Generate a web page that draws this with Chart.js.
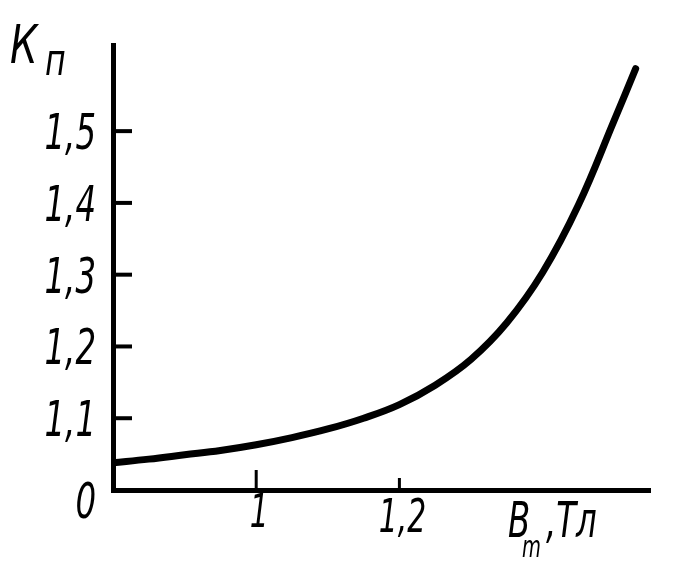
<!DOCTYPE html>
<html>
<head>
<meta charset="utf-8">
<script src="https://cdn.jsdelivr.net/npm/chart.js@4"></script>
<style>
  html, body { margin: 0; padding: 0; background: #fff; }
  #wrap { width: 676px; height: 564px; }
</style>
</head>
<body>
<div id="wrap"><canvas id="canvas_kp"></canvas></div>
<script>
// B_m, Tl  ->  K_p
var b_values = [0.8, 0.85, 0.9, 0.95, 1.0, 1.05, 1.1, 1.15, 1.2, 1.25, 1.3, 1.35, 1.4, 1.45, 1.5, 1.53];
var kp_values = [1.038, 1.043, 1.049, 1.055, 1.063, 1.073, 1.085, 1.1, 1.119, 1.146, 1.182, 1.233, 1.303, 1.397, 1.515, 1.587];
var y_ticks = [1.0, 1.1, 1.2, 1.3, 1.4, 1.5];
var y_labels = ['0', '1,1', '1,2', '1,3', '1,4', '1,5'];
var x_ticks = [1.0, 1.2];
var x_labels = ['1', '1,2'];

var FONT = "'DejaVu Sans Condensed', 'DejaVu Sans', sans-serif";

var points = b_values.map(function (b, i) { return { x: b, y: kp_values[i] }; });

// narrow, tall italic lettering like the book's
function drawNarrow(ctx, text, x, y, size, align, squeeze) {
  ctx.save();
  ctx.translate(x, y);
  ctx.scale(squeeze || 0.72, 1);
  ctx.font = 'italic ' + size + 'px ' + FONT;
  ctx.textAlign = align;
  ctx.fillText(text, 0, 0);
  ctx.restore();
}

// inward ticks, tick labels and axis names, placed with the chart's own scales
var inkPlugin = {
  id: 'ink',
  afterDraw: function (chart) {
    var ctx = chart.ctx;
    var xs = chart.scales.x, ys = chart.scales.y;
    var left = chart.chartArea.left, bottom = chart.chartArea.bottom;
    ctx.save();
    ctx.strokeStyle = '#000';
    ctx.fillStyle = '#000';
    ctx.lineWidth = 4;
    y_ticks.forEach(function (v) {
      if (v === 1.0) return;
      var py = ys.getPixelForValue(v);
      ctx.beginPath();
      ctx.moveTo(left, py);
      ctx.lineTo(left + 19, py);
      ctx.stroke();
    });
    ctx.lineWidth = 3;
    x_ticks.forEach(function (v, i) {
      var px = xs.getPixelForValue(v);
      ctx.beginPath();
      ctx.moveTo(px, bottom);
      ctx.lineTo(px, bottom - (i === 0 ? 20 : 12));
      ctx.stroke();
    });

    ctx.textBaseline = 'alphabetic';
    y_ticks.forEach(function (v, i) {
      var py = ys.getPixelForValue(v);
      if (v === 1.0) py += 10;
      drawNarrow(ctx, y_labels[i], left - 17, py + 18, 50, 'right');
    });
    x_ticks.forEach(function (v, i) {
      var px = xs.getPixelForValue(v);
      drawNarrow(ctx, x_labels[i], px + 3, bottom + (i === 0 ? 37 : 42), 46, 'center');
    });

    // K_n
    drawNarrow(ctx, 'К', 10, 63, 54, 'left', 0.8);
    drawNarrow(ctx, 'п', 45, 75, 44, 'left', 0.8);
    // B_m, Tl
    drawNarrow(ctx, 'B', 508, 537, 50, 'left');
    drawNarrow(ctx, 'm', 522, 557, 30, 'left');
    drawNarrow(ctx, ',Тл', 546, 537, 50, 'left');
    ctx.restore();
  }
};

var chart = new Chart(document.getElementById('canvas_kp'), {
  type: 'scatter',
  data: {
    datasets: [{
      data: points,
      showLine: true,
      borderColor: '#000',
      borderWidth: 7,
      pointRadius: 0,
      tension: 0.4,
      borderCapStyle: 'round'
    }]
  },
  options: {
    responsive: true,
    maintainAspectRatio: false,
    animation: false,
    layout: { padding: { top: 45, right: 26, left: 0, bottom: 0 } },
    plugins: { legend: { display: false }, tooltip: { enabled: false } },
    scales: {
      x: {
        type: 'linear',
        min: 0.8,
        max: 1.55,
        afterBuildTicks: function (scale) {
          scale.ticks = x_ticks.map(function (v) { return { value: v }; });
        },
        afterFit: function (scale) { scale.height = 74; },
        grid: { display: false, drawTicks: false },
        border: { display: true, color: '#000', width: 5 },
        ticks: { display: false }
      },
      y: {
        type: 'linear',
        min: 1.0,
        max: 1.62,
        afterBuildTicks: function (scale) {
          scale.ticks = y_ticks.map(function (v) { return { value: v }; });
        },
        afterFit: function (scale) { scale.width = 113; },
        grid: { display: false, drawTicks: false },
        border: { display: true, color: '#000', width: 5 },
        ticks: { display: false }
      }
    }
  },
  plugins: [inkPlugin]
});
</script>
</body>
</html>
